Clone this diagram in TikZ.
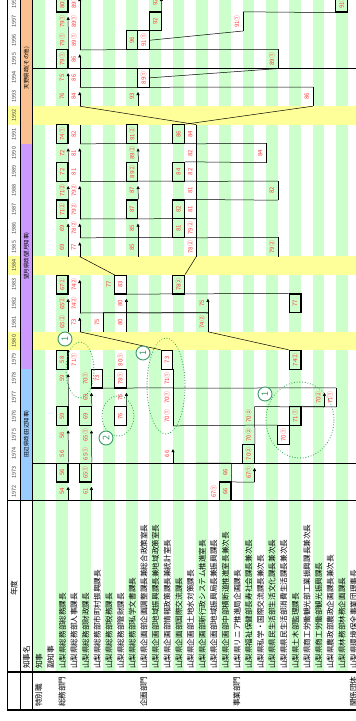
\documentclass[tikz,border=0pt]{standalone}
\usepackage{fontspec}
\setmainfont{Noto Sans CJK JP}
\usetikzlibrary{arrows.meta}
\definecolor{stripe}{HTML}{CCFFCC}
\definecolor{gapyear}{HTML}{FFFF99}
\definecolor{amano}{HTML}{FAC090}
\definecolor{mochi}{HTML}{CC99FF}
\definecolor{tanabe}{HTML}{99CCFF}
\definecolor{numred}{HTML}{FF3B3B}
\definecolor{ringgreen}{HTML}{2FA84F}
\definecolor{badgegreen}{HTML}{3C9A6A}
% one entry: cell node (name) at column / fiscal year, red number on top
\newcommand{\slot}[5][]{\node[cell,#1] (#2) at ({cx(#3)},{ry(#4)}) {}; \node[num] at (#2) {#5};}
\begin{document}
\begin{tikzpicture}[x=1pt,y=-1pt,
  declare function={cx(\x)=38.8+11.65*\x; ry(\x)=341+(1980-\x)*18.8;},
  cell/.style={rectangle,minimum width=11.65pt,minimum height=18.8pt,inner sep=0pt},
  boxed/.style={draw=black,line width=1.2pt},
  num/.style={rotate=90,text=numred,font=\fontsize{6}{6}\selectfont,inner sep=0pt},
  yr/.style={rotate=90,text=black!75,font=\fontsize{5.5}{6}\selectfont,inner sep=0pt},
  era/.style={rotate=90,font=\fontsize{5.5}{6}\selectfont,inner sep=0pt},
  head/.style={rotate=90,anchor=west,font=\fontsize{7.6}{8}\selectfont,inner sep=0pt},
  heavy/.style={line width=1.2pt},
  run/.style={line width=0.5pt,-{Triangle[length=3pt,width=3pt]}},
  stay/.style={line width=0.5pt},
  link/.style={line width=0.5pt},
  ring/.style={draw=ringgreen,line width=1.1pt,dash pattern=on 0.1pt off 2.6pt,line cap=round},
  badge/.style={circle,draw=badgegreen,line width=0.9pt,fill=white,minimum size=14pt,inner sep=0pt,
    text=badgegreen,font=\fontsize{9}{9}\selectfont,rotate=90}]
\useasboundingbox (0,0) rectangle (356,721);
\fill[white] (0,0) rectangle (356,721);

% Streifen, Lückenjahre, Amtszeiten
\foreach \k in {0,2,...,26} \fill[stripe] ({cx(\k)-5.825},0) rectangle ({cx(\k)+5.825},672);
\foreach \yy in {1980,1984,1992} \fill[gapyear] (7.5,{ry(\yy)-9.4}) rectangle (356,{ry(\yy)+9.4});
\fill[amano] (20.5,0) rectangle (32.5,{ry(1990.5)});
\fill[mochi] (20.5,{ry(1990.5)}) rectangle (32.5,{ry(1978.5)});
\fill[tanabe] (20.5,{ry(1978.5)}) rectangle (32.5,{ry(1971.5)});
\node[era] (eraA) at (26.5,68) {天野県政(その他)};
\node[era] (eraM) at (26.5,256) {望月県政(望月知事)};
\node[era] (eraT) at (26.5,434) {田辺県政(田辺知事)};
\foreach \yy in {1972,...,1998} \node[yr] at (14,{ry(\yy)}) {\yy};

% Rahmen
\draw[heavy] (7.5,0) -- (7.5,710) -- (356,710);
\draw[heavy] (20.5,0) -- (20.5,710);
\draw[heavy] (32.5,0) -- (32.5,710);
\draw[heavy] (7.5,{ry(1971.5)}) -- (356,{ry(1971.5)});
\draw[heavy] (7.5,672) -- (356,672);
\draw[heavy] (32.5,{ry(1994.5)}) -- (356,{ry(1994.5)});
\draw[heavy] (32.5,{ry(1973.5)}) -- (356,{ry(1973.5)});

% Kopfzeile
\node[rotate=90,font=\fontsize{7.6}{8}\selectfont,inner sep=0pt] (hyear) at (14,588) {年度};
\node[head] (hgov) at (26.5,669) {知事名};
\foreach \k/\name in {0/知事,1/副知事,2/山梨県総務部総務課長,3/山梨県総務部人事課長,
  4/山梨県総務部財政課長,5/山梨県総務部市町村振興課長,6/山梨県総務部税務課長,
  7/山梨県総務部管財課長,8/山梨県総務部私学文書課長,9/山梨県企画部企画調整課長兼総合政策室長,
  10/山梨県企画部地域振興課長兼地域政策室長,11/山梨県企画部情報政策課長兼統計室長,
  12/山梨県企画部国際交流課長,13/山梨県企画部土地水対策課長,14/山梨県企画部新行政システム推進室長,
  15/山梨県企画部地域振興局長兼振興課長,16/山梨県企画部中部横断道推進室長兼次長,
  17/山梨県リニア推進局企画課長,18/山梨県福祉保健部長寿社会課長兼次長,19/山梨県私学・国際交流課長兼次長,
  20/山梨県県民生活部生活文化課長兼次長,21/山梨県県民生活部消費生活課長兼次長,22/山梨県土木部監理課長,
  23/山梨県商工労働観光部工業振興課長兼次長,24/山梨県商工労働部観光振興課長,25/山梨県農政部農政企画課長兼次長,
  26/山梨県林務部林務企画課長,27/山梨県環境保全事業団理事長}
  \node[head] at ({cx(\k)+0.3},669) {\name};
\node[head] (cat0) at ({cx(0)},707) {特別職};
\node[head] (cat1) at ({cx(2)},707) {総務部門};
\node[head] (cat2) at ({cx(9)},707) {企画部門};
\node[head] (cat3) at ({cx(17)},707) {事業部門};
\node[head] (cat4) at ({cx(27)},707) {関係団体};

% Eintraege 1989-1998
\slot[boxed]{a1}{2}{1998}{80①}
\slot{a2}{2}{1997}{79①}
\slot{a3}{2}{1996}{79①}
\slot[boxed]{a4}{2}{1995}{79①}
\slot{a5}{2}{1994}{75}
\slot{a6}{2}{1993}{76}
\slot[boxed]{a7}{2}{1991}{74①}
\slot{a8}{2}{1990}{72}
\slot[boxed]{a9}{2}{1989}{72}
\slot{b1}{3}{1998}{89①}
\slot{b2}{3}{1997}{89①}
\slot{b3}{3}{1996}{89①}
\slot{b4}{3}{1995}{86}
\slot{b5}{3}{1994}{86}
\slot{b6}{3}{1993}{84}
\slot{b7}{3}{1991}{82}
\slot{b8}{3}{1990}{81}
\slot{b9}{3}{1989}{81}
\slot[boxed]{c1}{8}{1996}{96}
\slot[boxed]{c2}{9}{1996}{91①}
\slot[boxed]{c3}{10}{1997}{92}
\slot{c4}{10}{1998}{92}
\slot{c5}{17}{1997}{91①}
\slot[boxed]{c6}{26}{1998}{91①}
\slot[boxed]{c7}{9}{1994}{89①}
\slot{c8}{20}{1995}{89①}
\slot{c9}{8}{1993}{93}
\slot[boxed]{c10}{8}{1991}{91②}
\slot{c11}{8}{1990}{89②}
\slot[boxed]{c12}{8}{1989}{89②}
\slot{d1}{23}{1993}{86}
\slot[boxed]{d2}{12}{1991}{86}
\slot{d3}{13}{1991}{84}
\slot{d4}{19}{1990}{84}
\slot[boxed]{d5}{12}{1989}{84}
\slot{d6}{13}{1990}{82}
\slot{d7}{13}{1989}{82}

% Eintraege 1981-1988
\slot{e1}{2}{1988}{71②}
\slot[boxed]{e2}{2}{1987}{71②}
\slot{e3}{2}{1986}{69}
\slot{e4}{2}{1985}{69}
\slot[boxed]{e5}{2}{1983}{67②}
\slot{e6}{2}{1982}{65②}
\slot{e7}{2}{1981}{65②}
\slot{f1}{3}{1988}{79②}
\slot{f2}{3}{1987}{79②}
\slot{f3}{3}{1986}{78②}
\slot{f4}{3}{1985}{77}
\slot{f5}{3}{1983}{74②}
\slot{f6}{3}{1982}{74②}
\slot{f7}{3}{1981}{73}
\slot{g1}{8}{1988}{87}
\slot[boxed]{g2}{8}{1987}{87}
\slot{g3}{8}{1986}{85}
\slot{g4}{8}{1985}{85}
\slot{g5}{6}{1983}{77}
\slot[boxed]{g6}{7}{1983}{83}
\slot{g7}{7}{1982}{80}
\slot{g8}{7}{1981}{80}
\slot{g9}{5}{1981}{75}
\slot{h1}{13}{1988}{81}
\slot{h2}{13}{1987}{81}
\slot[boxed]{h3}{12}{1987}{82}
\slot[boxed]{h4}{12}{1986}{81}
\slot{h5}{13}{1986}{79②}
\slot{h6}{13}{1985}{78②}
\slot{h7}{20}{1988}{82}
\slot{h8}{20}{1985}{79②}
\slot[boxed]{h9}{12}{1983}{78②}
\slot[boxed]{h10}{22}{1982}{77}
\slot{h11}{14}{1982}{75}
\slot{h12}{14}{1981}{74②}

% Eintraege 1972-1979
\slot[boxed]{i1}{2}{1979}{58}
\slot{i2}{2}{1978}{59}
\slot[boxed]{i3}{2}{1976}{59}
\slot{i4}{2}{1975}{56}
\slot{i5}{2}{1974}{56}
\slot[boxed]{i6}{2}{1973}{56}
\slot{i7}{2}{1972}{54}
\slot{j1}{3}{1979}{71①}
\slot{j2}{4}{1978}{70①}
\slot[boxed]{j3}{5}{1978}{73}
\slot{j4}{4}{1977}{69}
\slot[boxed]{j5}{4}{1976}{69}
\slot{j6}{4}{1975}{65①}
\slot{j7}{4}{1974}{65①}
\slot[boxed]{j8}{4}{1973}{65①}
\slot{j9}{4}{1972}{61}
\slot{k1}{7}{1979}{80①}
\slot[boxed]{k2}{7}{1978}{78①}
\slot{k3}{7}{1977}{76}
\slot[boxed]{k4}{7}{1976}{76}
\slot[boxed]{l1}{11}{1979}{73}
\slot{l2}{11}{1978}{71①}
\slot{l3}{11}{1977}{70①}
\slot{l4}{11}{1976}{70①}
\slot{l5}{11}{1974}{66}
\slot[boxed]{m1}{22}{1979}{74②}
\slot{m2}{25}{1977}{71①}
\slot{m3}{24}{1977}{70②}
\slot[boxed]{m4}{22}{1976}{71①}
\slot[boxed]{m5}{21}{1975}{70①}
\slot{m6}{18}{1976}{70②}
\slot{m7}{18}{1975}{70②}
\slot[boxed]{m8}{18}{1974}{70②}
\slot{m9}{18}{1973}{67①}
\slot{m10}{16}{1973}{66}
\slot[boxed]{m11}{16}{1972}{66}
\slot{m12}{15}{1972}{67①}

% gleicher Posten: Linie am rechten Rand, Pfeil = letztes Jahr
\draw[run] (a4.north east) -- ([yshift=-5pt]a2.north east);
\draw[run] (a6.south east) -- ([yshift=-5pt]a5.north east);
\draw[run] (a9.north east) -- ([yshift=-5pt]a8.north east);
\draw[run] (b3.south east) -- ([yshift=-5pt]b1.north east);
\draw[run] (b5.south east) -- ([yshift=-5pt]b4.north east);
\draw[run] (b6.south east) -- ([yshift=-5pt]b6.north east);
\draw[stay] (b7.south east) -- (b7.north east);
\draw[run] (b9.south east) -- ([yshift=-5pt]b8.north east);
\draw[run] (c3.north east) -- ([yshift=-5pt]c4.north east);
\draw[stay] (c5.south east) -- (c5.north east);
\draw[stay] (c8.south east) -- (c8.north east);
\draw[run] (c9.south east) -- ([yshift=-5pt]c9.north east);
\draw[run] (c12.north east) -- ([yshift=-5pt]c11.north east);
\draw[stay] (d1.south east) -- (d1.north east);
\draw[stay] (d3.south east) -- (d3.north east);
\draw[stay] (d4.south east) -- (d4.north east);
\draw[stay] (d7.south east) -- (d6.north east);
\draw[run] (e2.north east) -- ([yshift=-5pt]e1.north east);
\draw[run] (e4.south east) -- ([yshift=-5pt]e3.north east);
\draw[run] (e7.south east) -- ([yshift=-5pt]e6.north east);
\draw[run] (f2.south east) -- ([yshift=-5pt]f1.north east);
\draw[run] (f3.south east) -- ([yshift=-5pt]f3.north east);
\draw[run] (f4.south east) -- ([yshift=-5pt]f4.north east);
\draw[run] (f6.south east) -- ([yshift=-5pt]f5.north east);
\draw[run] (f7.south east) -- ([yshift=-5pt]f7.north east);
\draw[run] (g2.north east) -- ([yshift=-5pt]g1.north east);
\draw[run] (g4.south east) -- ([yshift=-5pt]g3.north east);
\draw[stay] (g5.south east) -- (g5.north east);
\draw[run] (g8.south east) -- ([yshift=-5pt]g7.north east);
\draw[stay] (g9.south east) -- (g9.north east);
\draw[stay] (h2.south east) -- (h1.north east);
\draw[stay] (h5.south east) -- (h5.north east);
\draw[stay] (h6.south east) -- (h6.north east);
\draw[stay] (h7.south east) -- (h7.north east);
\draw[stay] (h8.south east) -- (h8.north east);
\draw[run] (h11.south east) -- ([yshift=-5pt]h11.north east);
\draw[stay] (h12.south east) -- (h12.north east);
\draw[run] (i3.north east) -- ([yshift=-5pt]i2.north east);
\draw[run] (i6.north east) -- ([yshift=-5pt]i4.north east);
\draw[run] (i7.south east) -- ([yshift=-5pt]i7.north east);
\draw[stay] (j2.south east) -- (j2.north east);
\draw[run] (j5.north east) -- ([yshift=-5pt]j4.north east);
\draw[run] (j8.north east) -- ([yshift=-5pt]j6.north east);
\draw[run] (j9.south east) -- ([yshift=-5pt]j9.north east);
\draw[run] (k4.north east) -- ([yshift=-5pt]k3.north east);
\draw[stay] (l4.south east) -- (l3.north east);
\draw[stay] (l2.south east) -- (l2.north east);
\draw[run] (l5.south east) -- ([yshift=-5pt]l5.north east);
\draw[stay] (m2.south east) -- (m2.north east);
\draw[run] (m3.south east) -- ([yshift=-5pt]m3.north east);
\draw[stay] (m8.north east) -- (m6.north east);
\draw[run] (m9.south east) -- ([yshift=-5pt]m9.north east);
\draw[stay] (m11.north east) -- (m10.north east);

% Wechsel zwischen Posten
\draw[link] (c2.east) -- (c5.south east);
\draw[link] (c5.north east) -- (c6.south west);
\draw[link] (c7.east) -- (c8.south east);
\draw[link] (c8.north east) -- (b3.south east);
\draw[link] (d2.north east) -- (d1.south east);
\draw[link] (d1.north east) -- (b5.south east);
\draw[link] (d5.north east) -- (d4.south east);
\draw[link] (d4.north east) -- (d3.south east);
\draw[link] (d3.north east) -- (b6.south east);
\draw[link] (d6.north east) -- (b7.south east);
\draw[link] (h3.north east) -- (h7.south east);
\draw[link] (h7.north east) -- (d7.south east);
\draw[link] (h4.north east) -- (h2.south east);
\draw[link] (h1.north east) -- (b9.south east);
\draw[link] (h8.north east) -- (h5.south east);
\draw[link] (h5.north east) -- (f2.south east);
\draw[link] (h9.north east) -- (h6.south east);
\draw[link] (h6.north east) -- (f3.south east);
\draw[link] (h10.north west) -- (g5.south east);
\draw[link] (g5.north east) -- (f4.south east);
\draw[link] (h12.north east) -- (f6.south east);
\draw[link] (g9.north east) -- (h11.south east);
\draw[link] (l1.north west) -- (f7.south east);
\draw[link] (m1.north west) -- (h12.south east);
\draw[link] (m2.north east) -- (l2.south east);
\draw[link] (l3.north east) -- (j2.south east);
\draw[link] (m5.north west) -- (l4.south east);
\draw[link] (m4.north east) -- (m2.south east);
\draw[link] (m6.north east) -- (m3.south east);
\draw[link] (m12.north east) -- (m9.south east);
\draw[link] (m10.north east) -- (l5.south east);

% Gruppen (gruen punktiert)
\draw[ring] (80,370) ellipse [x radius=14pt, y radius=28pt];
\draw[ring] (118,416) ellipse [x radius=16pt, y radius=20pt];
\draw[ring] (166,386) ellipse [x radius=19pt, y radius=48pt];
\draw[ring] (300,420) ellipse [x radius=34pt, y radius=38pt];
\node[badge] (r1) at (65,339) {1};
\node[badge] (r2) at (106,438) {2};
\node[badge] (r3) at (143,353) {1};
\node[badge] (r4) at (265,394) {1};
\end{tikzpicture}
\end{document}
